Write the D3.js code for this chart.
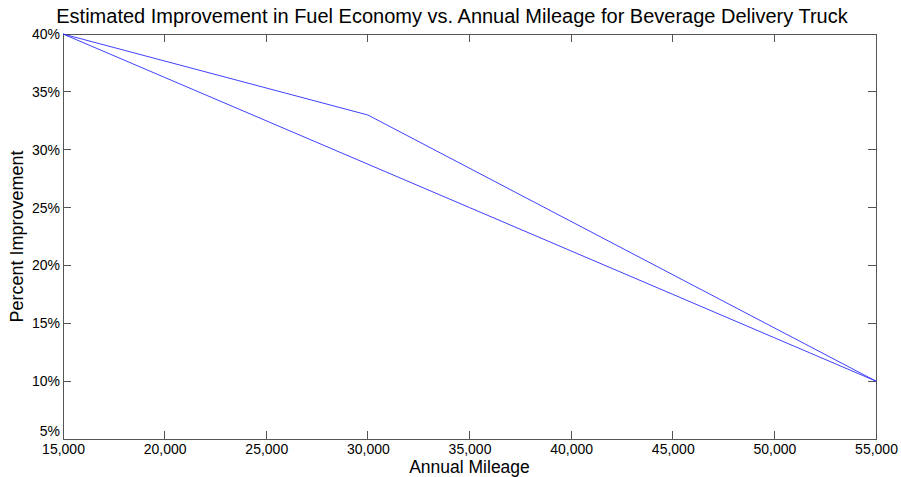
<!DOCTYPE html>
<html><head><meta charset="utf-8">
<script src="https://cdn.jsdelivr.net/npm/d3@7"></script>
<style>body{margin:0;background:#fff;}text{font-family:"Liberation Sans",Arial,sans-serif;}</style>
</head><body><svg id="c" width="901" height="477"></svg>
<script>
const title = "Estimated Improvement in Fuel Economy vs. Annual Mileage for Beverage Delivery Truck";
const xLabel = "Annual Mileage";
const yLabel = "Percent Improvement";
const xTicks = [15000,20000,25000,30000,35000,40000,45000,50000,55000];
const yTicks = [5,10,15,20,25,30,35,40];
const upperMiles = [15000,30000,55000];
const upperPct = [40,33,10];
const lowerMiles = [15000,20000,25000,30000,35000,40000,45000,50000,55000];
const lowerPct = [40,36.25,32.5,28.75,25,21.25,17.5,13.75,10];

const svg = d3.select("#c");
const L=63,R=876,T=34,B=439;
const x = d3.scaleLinear().domain([15000,55000]).range([L,R]);
const y = d3.scaleLinear().domain([5,40]).range([B,T]);
const axisColor="#555";
const fmt = d3.format(",");

svg.append("rect").attr("x",L).attr("y",T).attr("width",R-L).attr("height",B-T)
  .attr("fill","#fff").attr("stroke",axisColor).attr("stroke-width",1).attr("shape-rendering","crispEdges");

const tl=8;
const bottomAx = d3.axisBottom(x).tickValues(xTicks).tickSize(0).tickFormat(fmt);
const gx = svg.append("g").attr("transform",`translate(0,${B})`).call(bottomAx);
gx.select(".domain").remove();
gx.selectAll("text").attr("font-size",14).attr("fill","#000").attr("dy","0.9em").attr("y",2);

const leftAx = d3.axisLeft(y).tickValues(yTicks).tickSize(0).tickFormat(d=>d+"%");
const gy = svg.append("g").attr("transform",`translate(${L},0)`).call(leftAx);
gy.select(".domain").remove();
gy.selectAll("text").attr("font-size",14).attr("fill","#000").attr("x",-3)
  .attr("dy",d=>d===5?"-0.22em":"0.32em");

const tg = svg.append("g").attr("stroke",axisColor).attr("shape-rendering","crispEdges");
xTicks.forEach(v=>{
  tg.append("line").attr("x1",x(v)).attr("x2",x(v)).attr("y1",B).attr("y2",B-tl);
  tg.append("line").attr("x1",x(v)).attr("x2",x(v)).attr("y1",T).attr("y2",T+tl);
});
yTicks.forEach(v=>{
  tg.append("line").attr("x1",L).attr("x2",L+tl).attr("y1",y(v)).attr("y2",y(v));
  tg.append("line").attr("x1",R).attr("x2",R-tl).attr("y1",y(v)).attr("y2",y(v));
});

const line = d3.line().x(d=>x(d[0])).y(d=>y(d[1]));
const upper = upperMiles.map((m,i)=>[m,upperPct[i]]);
const lower = lowerMiles.map((m,i)=>[m,lowerPct[i]]);
[upper,lower].forEach(dat=>{
  svg.append("path").datum(dat).attr("d",line).attr("fill","none")
    .attr("stroke","#2a2aff").attr("stroke-width",0.9);
});

svg.append("text").attr("x",452).attr("y",23).attr("text-anchor","middle")
  .attr("font-size",20).attr("fill","#000").text(title);
svg.append("text").attr("x",(L+R)/2).attr("y",473).attr("text-anchor","middle")
  .attr("font-size",17.5).attr("fill","#000").text(xLabel);
svg.append("text").attr("transform",`translate(23,${(T+B)/2}) rotate(-90)`).attr("text-anchor","middle")
  .attr("font-size",18).attr("fill","#000").text(yLabel);
</script></body></html>
